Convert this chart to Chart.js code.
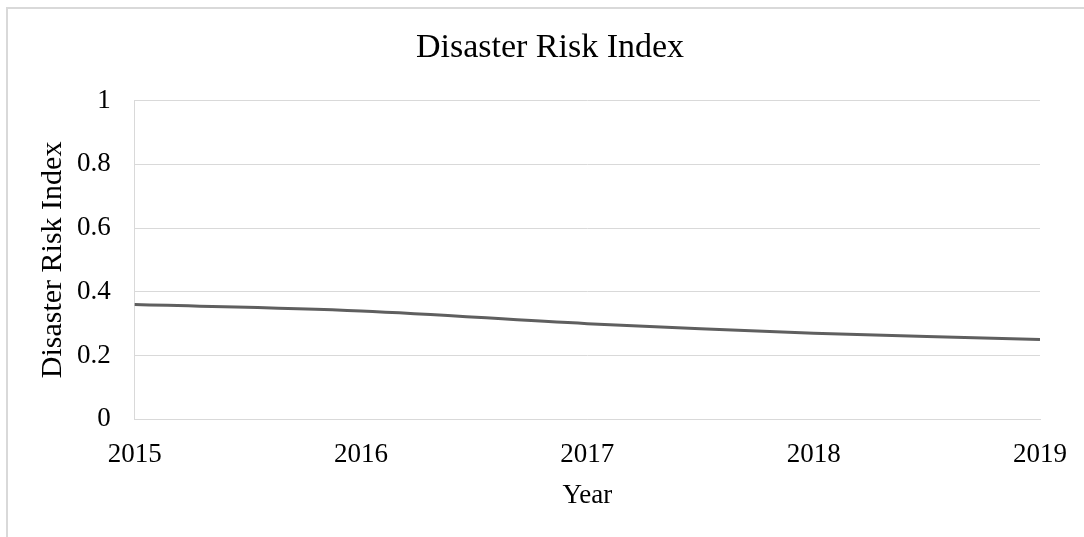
<!DOCTYPE html>
<html>
<head>
<meta charset="utf-8">
<title>Disaster Risk Index</title>
<script src="https://cdn.jsdelivr.net/npm/chart.js@4/dist/chart.umd.min.js"></script>
<style>
  html, body { margin: 0; padding: 0; background: #ffffff; }
  #wrap { position: relative; width: 1084px; height: 537px; }
  canvas { display: block; }
</style>
</head>
<body>
<div id="wrap"><canvas id="chart" width="1084" height="537"></canvas></div>
<script>
// Yearly values of the index
const years = ['2015', '2016', '2017', '2018', '2019'];
const riskIndex = [0.36, 0.34, 0.30, 0.27, 0.25];
const yTicks = [0, 0.2, 0.4, 0.6, 0.8, 1];

const serif = '"Liberation Serif", "Times New Roman", Times, serif';
const gridGray = '#d9d9d9';

// Light frame around the whole chart
const framePlugin = {
  id: 'frame',
  beforeDraw(chart) {
    const ctx = chart.ctx;
    ctx.save();
    ctx.strokeStyle = gridGray;
    ctx.lineWidth = 2;
    ctx.strokeRect(7, 8, chart.width + 20, chart.height + 20);
    ctx.restore();
  }
};

new Chart(document.getElementById('chart'), {
  type: 'line',
  data: {
    labels: years,
    datasets: [{
      label: 'Disaster Risk Index',
      data: riskIndex,
      borderColor: '#5f5f5f',
      borderWidth: 3,
      pointRadius: 0,
      tension: 0.35,
      fill: false
    }]
  },
  options: {
    responsive: false,
    animation: false,
    layout: { padding: { left: 16, right: 0, top: 0, bottom: 0 } },
    plugins: {
      legend: { display: false },
      tooltip: { enabled: false },
      title: {
        display: true,
        text: 'Disaster Risk Index',
        color: '#000000',
        font: { family: serif, size: 34, weight: 'normal' },
        padding: { top: 28, bottom: 31.7 }
      }
    },
    scales: {
      x: {
        type: 'category',
        offset: false,
        grid: { display: false, drawTicks: false },
        border: { display: true, color: gridGray, width: 1 },
        ticks: {
          color: '#000000',
          font: { family: serif, size: 27 },
          padding: 19,
          maxRotation: 0,
          autoSkip: false
        },
        title: {
          display: true,
          text: 'Year',
          color: '#000000',
          font: { family: serif, size: 27 },
          padding: { top: 0, bottom: 25 }
        },
        afterFit(scale) {
          scale.height = 117.7;
          scale.paddingRight = 44;
        }
      },
      y: {
        min: 0,
        max: 1,
        afterBuildTicks(scale) {
          scale.ticks = yTicks.map(v => ({ value: v }));
        },
        grid: { color: gridGray, lineWidth: 1, drawTicks: false },
        border: { display: true, color: gridGray, width: 1 },
        ticks: {
          color: '#000000',
          font: { family: serif, size: 27 },
          padding: 24,
          callback: v => String(v)
        },
        title: {
          display: true,
          text: 'Disaster Risk Index',
          color: '#000000',
          font: { family: serif, size: 30 },
          padding: { top: 19, bottom: 0 }
        },
        afterFit(scale) { scale.width = 118.7; }
      }
    }
  },
  plugins: [framePlugin]
});
</script>
</body>
</html>
